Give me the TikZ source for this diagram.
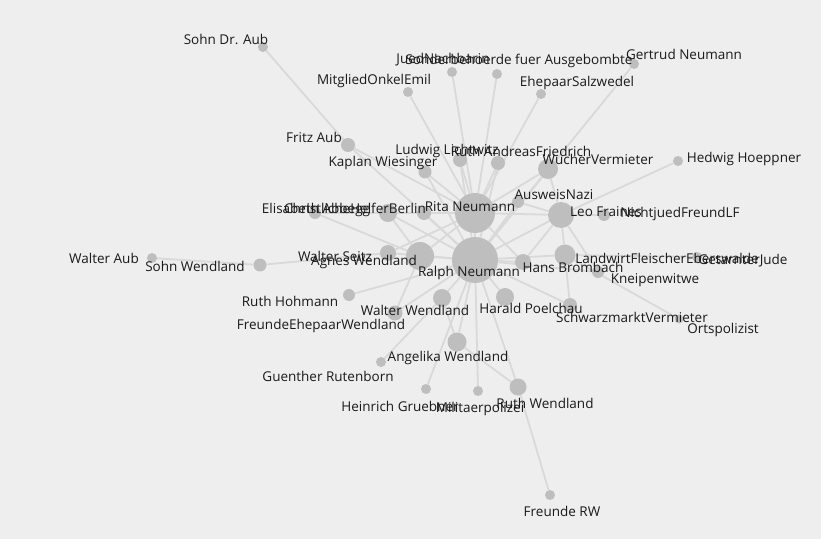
\documentclass[tikz,border=0pt]{standalone}
\usepackage{fontspec}
\setmainfont{Open Sans}
\definecolor{bgc}{HTML}{EEEEEE}
\definecolor{nodec}{HTML}{BEBEBE}
\definecolor{edgec}{HTML}{D9D9D9}
\definecolor{textc}{HTML}{1A1A1A}
\pgfdeclarelayer{bg}
\pgfdeclarelayer{edges}
\pgfsetlayers{bg,edges,main}
\tikzset{
  dot/.style={circle, fill=nodec, draw=none, inner sep=0pt, minimum size=#1bp},
  edge/.style={draw=edgec, line width=1.8bp},
  lbl/.style={anchor=base, text=textc, inner sep=0pt, font=\fontsize{13.5bp}{15bp}\selectfont}
}
\begin{document}
\begin{tikzpicture}[x=1bp,y=-1bp]
\begin{pgfonlayer}{bg}
\fill[bgc] (0,0) rectangle (821,539);
\end{pgfonlayer}
\useasboundingbox (0,0) rectangle (821,539);
% nodes
\node[dot=46] (rn) at (475,260) {};
\node[dot=40] (ri) at (475,213) {};
\node[dot=10] (sda) at (263,47) {};
\node[dot=10] (jn) at (452,72) {};
\node[dot=10] (sb) at (497,74) {};
\node[dot=10] (gn) at (634,64) {};
\node[dot=10] (moe) at (408,92) {};
\node[dot=10] (es) at (541,94) {};
\node[dot=14] (fa) at (348,145) {};
\node[dot=14] (ll) at (460,160) {};
\node[dot=14] (raf) at (498,163) {};
\node[dot=13] (kw) at (425,172) {};
\node[dot=20] (wv) at (548,169) {};
\node[dot=10] (hh) at (678,161) {};
\node[dot=12] (an) at (518,202) {};
\node[dot=26] (lf) at (561,215) {};
\node[dot=12] (nf) at (604,215) {};
\node[dot=18] (chb) at (388,213) {};
\node[dot=12] (ea) at (315,213) {};
\node[dot=14] (xx) at (424,213) {};
\node[dot=16] (ws) at (388,253) {};
\node[dot=28] (aw) at (420,256) {};
\node[dot=16] (hb) at (523,262) {};
\node[dot=21] (lfe) at (565,255) {};
\node[dot=10] (gj) at (697,257) {};
\node[dot=12] (kn) at (598,272) {};
\node[dot=10] (wa) at (152,258) {};
\node[dot=13] (sw) at (260,265) {};
\node[dot=12] (rh) at (349,295) {};
\node[dot=18] (ww) at (442,298) {};
\node[dot=18] (hp) at (505,297) {};
\node[dot=14] (smv) at (570,305) {};
\node[dot=9] (op) at (679,319) {};
\node[dot=15] (few) at (395,313) {};
\node[dot=19] (agw) at (457,342) {};
\node[dot=10] (gr) at (381,362) {};
\node[dot=10] (hg) at (426,389) {};
\node[dot=10] (mp) at (478,391) {};
\node[dot=17] (rw) at (518,387) {};
\node[dot=10] (frw) at (550,495) {};
% edges
\begin{pgfonlayer}{edges}
\foreach \a in {jn,sb,moe,es,ll,raf,kw,wv,an,chb,xx,fa,aw,lf,hb,ws,ea}
  \draw[edge] (ri) -- (\a);
\foreach \a in {ri,gn,ll,raf,kw,wv,an,lf,lfe,hb,kn,smv,hp,ww,few,agw,hg,mp,rw,rh,aw,ws,chb,xx,fa}
  \draw[edge] (rn) -- (\a);
\draw[edge] (sda) -- (fa);
\draw[edge] (wa) -- (sw);
\draw[edge] (sw) -- (ws);
\draw[edge] (frw) -- (rw);
\draw[edge] (agw) -- (rw);
\draw[edge] (agw) -- (ww);
\draw[edge] (ea) -- (aw);
\draw[edge] (chb) -- (aw);
\draw[edge] (nf) -- (lf);
\draw[edge] (gj) -- (lfe);
\draw[edge] (kn) -- (lf);
\draw[edge] (smv) -- (lfe);
\draw[edge] (op) -- (lfe);
\draw[edge] (hh) -- (lf);
\draw[edge] (gr) -- (ww);
\draw[edge] (lf) -- (hb);
\draw[edge] (lfe) -- (lf);
\draw[edge] (wv) -- (lf);
\draw[edge] (few) -- (aw);
\draw[edge] (an) -- (lf);
\end{pgfonlayer}
% labels
\node[lbl] (l-sda) at (226,45) {Sohn Dr. Aub};
\node[lbl] (l-jn) at (443,64) {JuedNachbarin};
\node[lbl] (l-sb) at (519,65) {Sonderbehoerde fuer Ausgebombte};
\node[lbl] (l-gn) at (684,60) {Gertrud Neumann};
\node[lbl] (l-moe) at (374,85) {MitgliedOnkelEmil};
\node[lbl] (l-es) at (577,87) {EhepaarSalzwedel};
\node[lbl] (l-fa) at (314,143) {Fritz Aub};
\node[lbl] (l-ll) at (447,155) {Ludwig Lichtwitz};
\node[lbl] (l-raf) at (521,157) {Ruth AndreasFriedrich};
\node[lbl] (l-kw) at (383,167) {Kaplan Wiesinger};
\node[lbl] (l-wv) at (598,165) {WucherVermieter};
\node[lbl] (l-hh) at (744,163) {Hedwig Hoeppner};
\node[lbl] (l-an) at (554,200) {AusweisNazi};
\node[lbl] (l-ri) at (470,212) {Rita Neumann};
\node[lbl] (l-lf) at (606,217) {Leo Fraines};
\node[lbl] (l-nf) at (680,218) {NichtjuedFreundLF};
\node[lbl] (l-ea) at (316,214) {Elisabeth Abbegg};
\node[lbl] (l-chb) at (355,214) {ChristlicheHelferBerlin};
\node[lbl] (l-ws) at (335,262) {Walter Seitz};
\node[lbl] (l-aw) at (364,266) {Agnes Wendland};
\node[lbl] (l-rn) at (469,277) {Ralph Neumann};
\node[lbl] (l-hb) at (573,273) {Hans Brombach};
\node[lbl] (l-lfe) at (667,264) {LandwirtFleischerEberswalde};
\node[lbl] (l-gj) at (743,265) {GetarnterJude};
\node[lbl] (l-kn) at (655,284) {Kneipenwitwe};
\node[lbl] (l-wa) at (104,264) {Walter Aub};
\node[lbl] (l-sw) at (195,272) {Sohn Wendland};
\node[lbl] (l-rh) at (290,307) {Ruth Hohmann};
\node[lbl] (l-ww) at (415,316) {Walter Wendland};
\node[lbl] (l-hp) at (531,314) {Harald Poelchau};
\node[lbl] (l-smv) at (632,323) {SchwarzmarktVermieter};
\node[lbl] (l-op) at (723,333) {Ortspolizist};
\node[lbl] (l-few) at (321,329) {FreundeEhepaarWendland};
\node[lbl] (l-agw) at (448,361) {Angelika Wendland};
\node[lbl] (l-gr) at (328,381) {Guenther Rutenborn};
\node[lbl] (l-hg) at (400,411) {Heinrich Gruebner};
\node[lbl] (l-mp) at (480,412) {Militaerpolizei};
\node[lbl] (l-rw) at (545,408) {Ruth Wendland};
\node[lbl] (l-frw) at (562,516) {Freunde RW};
\end{tikzpicture}
\end{document}
